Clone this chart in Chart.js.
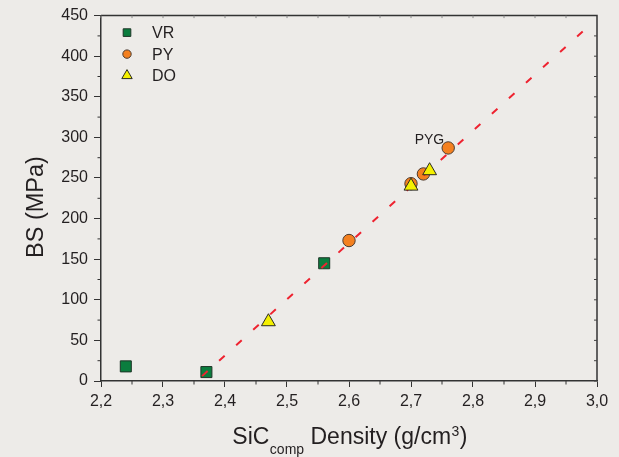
<!DOCTYPE html>
<html>
<head>
<meta charset="utf-8">
<script src="https://cdn.jsdelivr.net/npm/chart.js@4/dist/chart.umd.min.js"></script>
<style>
html,body{margin:0;padding:0;background:#EDEBE8;}
canvas{display:block;}
</style>
</head>
<body>
<canvas id="c" width="619" height="457"></canvas>
<script>
// ---- data ----
const seriesNames = ['VR', 'PY', 'DO'];
const vrX = [2.24, 2.37, 2.56];
const vrY = [18, 11, 145];
const pyX = [2.60, 2.70, 2.72, 2.76];
const pyY = [173, 243, 255, 287];
const doX = [2.47, 2.70, 2.73];
const doY = [73, 240, 259];
const fitX = [2.363, 2.982];
const fitY = [6, 434];
const xTicks = [2.2, 2.3, 2.4, 2.5, 2.6, 2.7, 2.8, 2.9, 3.0];
const yTicks = [0, 50, 100, 150, 200, 250, 300, 350, 400, 450];
const pointLabel = 'PYG';
const pointLabelIndex = 3; // on PY series

const pts = (xs, ys) => xs.map((x, i) => ({x: x, y: ys[i]}));
const FONT = "'Liberation Sans', Arial, sans-serif";
const INK = '#231F20';

const styles = [
  {pointStyle: 'rect', backgroundColor: '#0B7D3E', borderColor: '#1E3527', radius: 7.8, legendR: 5.4},
  {pointStyle: 'circle', backgroundColor: '#F4801F', borderColor: '#4A3A30', radius: 6.2, legendR: 4.2},
  {pointStyle: 'triangle', backgroundColor: '#F4F000', borderColor: '#2A2A20', radius: 8, legendR: 6}
];

const decor = {
  id: 'decor',
  afterDraw(chart) {
    const ctx = chart.ctx, ca = chart.chartArea;
    const xs = chart.scales.x, ys = chart.scales.y;
    ctx.save();
    ctx.strokeStyle = '#333';
    ctx.lineWidth = 1.5;
    // mirror border top/right
    ctx.beginPath();
    ctx.moveTo(ca.left, ca.top); ctx.lineTo(ca.right, ca.top); ctx.lineTo(ca.right, ca.bottom);
    ctx.stroke();
    ctx.lineWidth = 1;
    // minor ticks bottom & left (outward), top & right (inward)
    for (let i = 0; i < xTicks.length - 1; i++) {
      const mid = xs.getPixelForValue((xTicks[i] + xTicks[i + 1]) / 2);
      ctx.beginPath(); ctx.moveTo(mid, ca.bottom); ctx.lineTo(mid, ca.bottom + 3.5); ctx.stroke();
    }
    for (let i = 0; i < yTicks.length - 1; i++) {
      const mid = ys.getPixelForValue((yTicks[i] + yTicks[i + 1]) / 2);
      ctx.beginPath(); ctx.moveTo(ca.left, mid); ctx.lineTo(ca.left - 3.5, mid); ctx.stroke();
    }
    ctx.strokeStyle = '#888';
    for (let i = 0; i < xTicks.length - 1; i++) {
      [xTicks[i], (xTicks[i] + xTicks[i + 1]) / 2].forEach(v => {
        const p = xs.getPixelForValue(v);
        ctx.beginPath(); ctx.moveTo(p, ca.top); ctx.lineTo(p, ca.top + 2.5); ctx.stroke();
      });
    }
    ctx.strokeStyle = '#444';
    for (let i = 0; i < yTicks.length - 1; i++) {
      [yTicks[i], (yTicks[i] + yTicks[i + 1]) / 2].forEach(v => {
        const p = ys.getPixelForValue(v);
        ctx.beginPath(); ctx.moveTo(ca.right, p); ctx.lineTo(ca.right - 3, p); ctx.stroke();
      });
    }
    // legend
    const lx = ca.left + 26, ly0 = ca.top + 17, dy = 21.5;
    seriesNames.forEach((n, i) => {
      const s = styles[i];
      ctx.fillStyle = s.backgroundColor; ctx.strokeStyle = s.borderColor; ctx.lineWidth = 1;
      Chart.helpers.drawPoint(ctx, {pointStyle: s.pointStyle, radius: s.legendR, borderWidth: 1, rotation: 0},
        lx, ly0 + i * dy);
      ctx.fillStyle = INK;
      ctx.font = '16px ' + FONT;
      ctx.textBaseline = 'middle';
      ctx.textAlign = 'left';
      ctx.fillText(n, lx + 25, ly0 + i * dy + 1);
    });
    // point label
    const px = xs.getPixelForValue(pyX[pointLabelIndex]);
    const py = ys.getPixelForValue(pyY[pointLabelIndex]);
    ctx.font = '14px ' + FONT;
    ctx.fillStyle = INK;
    ctx.textAlign = 'right';
    ctx.textBaseline = 'alphabetic';
    ctx.fillText(pointLabel, px - 4, py - 4);
    // y title
    ctx.save();
    ctx.translate(42.5, 207);
    ctx.rotate(-Math.PI / 2);
    ctx.font = '23.5px ' + FONT;
    ctx.textAlign = 'center';
    ctx.fillText('BS (MPa)', 0, 0);
    ctx.restore();
    // x title with sub/superscript
    ctx.textAlign = 'left';
    let x = 232.3;
    const base = 443.5;
    ctx.font = '23px ' + FONT;
    ctx.fillText('SiC', x, base); x += ctx.measureText('SiC').width + 0.5;
    ctx.font = '14px ' + FONT;
    ctx.fillText('comp', x, base + 10.5); x += ctx.measureText('comp').width;
    ctx.font = '23px ' + FONT;
    ctx.fillText(' Density (g/cm', x, base); x += ctx.measureText(' Density (g/cm').width;
    ctx.font = '14px ' + FONT;
    ctx.fillText('3', x + 0.5, base - 7.5); x += ctx.measureText('3').width + 1;
    ctx.font = '23px ' + FONT;
    ctx.fillText(')', x, base);
    ctx.restore();
  }
};

const mk = (i, xs, ys) => ({
  label: seriesNames[i],
  data: pts(xs, ys),
  pointStyle: styles[i].pointStyle,
  backgroundColor: styles[i].backgroundColor,
  borderColor: styles[i].borderColor,
  borderWidth: 1,
  pointRadius: styles[i].radius,
  showLine: false
});

const dsVR = mk(0, vrX, vrY); dsVR.order = 3;
const dsPY = mk(1, pyX, pyY); dsPY.order = 3;
const dsDO = mk(2, doX, doY); dsDO.order = 1;
const dsFit = {
  label: 'fit', data: pts(fitX, fitY), showLine: true, pointRadius: 0,
  borderColor: '#EE2330', borderWidth: 2, borderDash: [7.5, 15.5], order: 2, fill: false
};

new Chart(document.getElementById('c'), {
  type: 'scatter',
  data: {datasets: [dsVR, dsPY, dsFit, dsDO]},
  options: {
    responsive: false,
    animation: false,
    layout: {padding: {left: 0, top: 15, right: 22, bottom: 0}},
    plugins: {legend: {display: false}, tooltip: {enabled: false}},
    scales: {
      x: {
        type: 'linear', min: 2.2, max: 3.0,
        afterBuildTicks: s => { s.ticks = xTicks.map(v => ({value: v})); },
        afterFit: s => { s.height = 76; },
        ticks: {
          callback: v => v.toFixed(1).replace('.', ','),
          font: {family: FONT, size: 16}, color: INK, padding: 5, maxRotation: 0, autoSkip: false
        },
        grid: {drawOnChartArea: false, drawTicks: true, tickLength: 6, color: '#333', lineWidth: 1},
        border: {display: true, color: '#333', width: 1.5}
      },
      y: {
        type: 'linear', min: 0, max: 450,
        afterBuildTicks: s => { s.ticks = yTicks.map(v => ({value: v})); },
        afterFit: s => { s.width = 101; },
        ticks: {font: {family: FONT, size: 16}, color: INK, padding: 6, autoSkip: false},
        grid: {drawOnChartArea: false, drawTicks: true, tickLength: 7, color: '#333', lineWidth: 1},
        border: {display: true, color: '#333', width: 1.5}
      }
    }
  },
  plugins: [decor]
});
</script>
</body>
</html>
